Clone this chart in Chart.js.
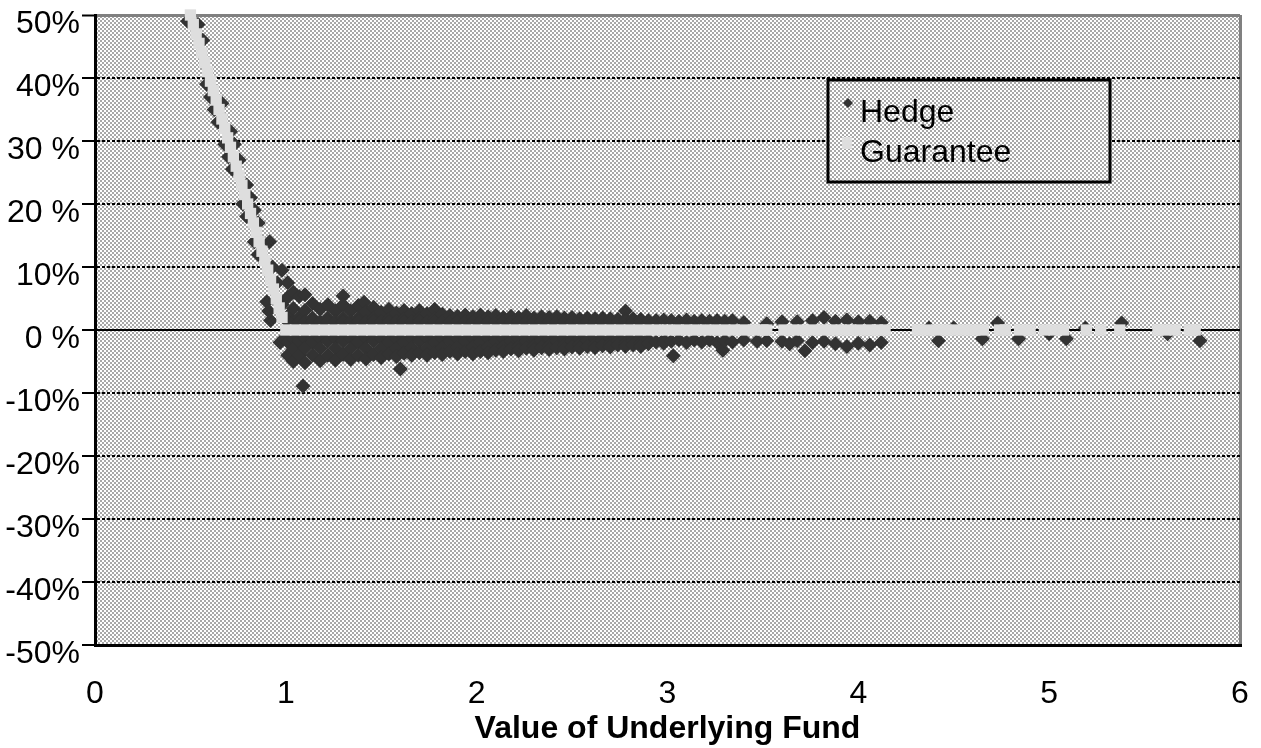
<!DOCTYPE html>
<html>
<head>
<meta charset="utf-8">
<script src="https://cdn.jsdelivr.net/npm/chart.js"></script>
<style>
  body { margin: 0; background: #fff; }
</style>
</head>
<body>
<canvas id="hedgeChart" width="1261" height="748"></canvas>

<script>
// tick labels as printed on the original chart
const xTickLabels = ['0', '1', '2', '3', '4', '5', '6'];
const yTickLabels = ['50%', '40%', '30 %', '20 %', '10%', '0 %', '-10%', '-20%', '-30%', '-40%', '-50%'];

// [value of underlying fund, hedge result in %]
const hedgePoints = [
  // below the payoff line (left side of the steep part)
  [0.485,49],[0.585,39],[0.605,37],[0.625,35],[0.645,33],[0.68,29.5],[0.70,27.5],[0.72,25.5],
  [0.775,20],[0.795,18],[0.835,14],[0.855,12],[0.90,4.5],[0.92,1.5],[0.91,3.0],
  // above the payoff line (right side of the steep part)
  [0.54,48.5],[0.565,46],[0.665,36],[0.71,31.5],[0.73,29.5],[0.755,27],[0.795,23],[0.815,21],
  [0.835,19],[0.855,17],[0.915,14],[0.93,10],[0.955,7.5],
  // around the strike
  [0.98,9.5],[0.98,4.0],[0.97,-2.0],[0.99,-1.4],
  [1.01,7.5],[1.01,5.2],[1.01,2.2],[1.01,1.3],[1.01,-1.3],[1.01,-1.9],[1.01,-4.0],
  [1.04,6.0],[1.04,3.4],[1.04,1.3],[1.04,-1.3],[1.04,-3.0],[1.04,-5.0],
  [1.07,5.3],[1.07,2.0],[1.07,1.3],[1.07,-1.3],[1.07,-1.8],[1.07,-4.0],
  [1.09,-8.9],
  [1.10,5.6],[1.10,3.1],[1.10,1.3],[1.10,-1.3],[1.10,-2.9],[1.10,-5.2],
  [1.14,4.2],[1.14,1.9],[1.14,1.3],[1.14,-1.3],[1.14,-1.9],[1.14,-4.0],
  [1.18,3.3],[1.18,1.3],[1.18,-1.3],[1.18,-2.9],[1.18,-4.9],
  [1.22,4.0],[1.22,1.9],[1.22,1.3],[1.22,-1.3],[1.22,-1.8],[1.22,-4.0],
  [1.26,3.0],[1.26,1.3],[1.26,-1.3],[1.26,-2.9],[1.26,-4.8],
  [1.30,5.4],[1.30,4.0],[1.30,1.9],[1.30,1.3],[1.30,-1.3],[1.30,-1.8],[1.30,-3.9],
  [1.34,3.0],[1.34,1.3],[1.34,-1.3],[1.34,-2.9],[1.34,-4.7],
  [1.38,3.9],[1.38,1.9],[1.38,1.3],[1.38,-1.3],[1.38,-1.9],[1.38,-4.0],
  [1.41,4.4],
  [1.42,2.9],[1.42,1.3],[1.42,-1.3],[1.42,-2.9],[1.42,-4.6],
  [1.46,3.6],[1.46,1.9],[1.46,1.3],[1.46,-1.3],[1.46,-1.8],[1.46,-3.9],
  [1.50,2.8],[1.50,1.3],[1.50,-1.3],[1.50,-2.9],[1.50,-4.4],
  [1.54,3.3],[1.54,1.8],[1.54,1.3],[1.54,-1.3],[1.54,-1.9],[1.54,-3.8],
  [1.58,2.7],[1.58,1.3],[1.58,-1.3],[1.58,-2.9],[1.58,-4.2],
  [1.60,-6.2],
  [1.62,3.1],[1.62,1.8],[1.62,1.3],[1.62,-1.3],[1.62,-1.9],[1.62,-3.7],
  [1.66,2.6],[1.66,1.3],[1.66,-1.3],[1.66,-2.8],[1.66,-4.0],
  [1.70,3.1],[1.70,1.8],[1.70,1.3],[1.70,-1.3],[1.70,-1.8],[1.70,-3.6],
  [1.74,2.6],[1.74,1.3],[1.74,-1.3],[1.74,-2.8],[1.74,-4.0],
  [1.78,3.3],[1.78,1.8],[1.78,1.3],[1.78,-1.3],[1.78,-1.9],[1.78,-3.6],
  [1.82,2.5],[1.82,1.3],[1.82,-1.3],[1.82,-2.8],[1.82,-3.9],
  [1.86,2.3],[1.86,1.3],[1.86,-1.3],[1.86,-1.8],[1.86,-3.4],
  [1.90,2.2],[1.90,1.3],[1.90,-1.3],[1.90,-2.7],[1.90,-3.8],
  [1.94,2.4],[1.94,1.3],[1.94,-1.3],[1.94,-1.8],[1.94,-3.4],
  [1.98,2.1],[1.98,1.3],[1.98,-1.3],[1.98,-2.7],[1.98,-3.8],
  [2.02,2.4],[2.02,1.3],[2.02,-1.3],[2.02,-1.9],[2.02,-3.4],
  [2.06,2.1],[2.06,1.3],[2.06,-1.3],[2.06,-2.7],[2.06,-3.6],
  [2.10,2.3],[2.10,1.3],[2.10,-1.3],[2.10,-1.8],[2.10,-3.2],
  [2.14,2.0],[2.14,1.3],[2.14,-1.3],[2.14,-2.6],[2.14,-3.4],
  [2.18,2.2],[2.18,1.3],[2.18,-1.3],[2.18,-1.8],[2.18,-3.0],
  [2.22,2.0],[2.22,1.3],[2.22,-1.3],[2.22,-2.6],[2.22,-3.3],
  [2.26,2.3],[2.26,1.3],[2.26,-1.3],[2.26,-1.8],[2.26,-2.9],
  [2.30,1.9],[2.30,1.3],[2.30,-1.3],[2.30,-2.5],[2.30,-3.2],
  [2.34,2.1],[2.34,1.3],[2.34,-1.3],[2.34,-1.7],[2.34,-2.8],
  [2.38,2.0],[2.38,1.3],[2.38,-1.3],[2.38,-2.5],[2.38,-3.1],
  [2.42,2.1],[2.42,1.3],[2.42,-1.3],[2.42,-1.7],[2.42,-2.8],
  [2.46,1.9],[2.46,1.3],[2.46,-1.3],[2.46,-2.4],[2.46,-3.0],
  [2.50,2.0],[2.50,1.3],[2.50,-1.3],[2.50,-1.7],[2.50,-2.7],
  [2.54,1.8],[2.54,1.3],[2.54,-1.3],[2.54,-2.3],[2.54,-2.9],
  [2.58,1.9],[2.58,1.3],[2.58,-1.3],[2.58,-1.7],[2.58,-2.6],
  [2.62,1.8],[2.62,1.3],[2.62,-1.3],[2.62,-2.3],[2.62,-2.8],
  [2.66,1.9],[2.66,1.3],[2.66,-1.3],[2.66,-1.7],[2.66,-2.5],
  [2.70,1.8],[2.70,1.3],[2.70,-1.3],[2.70,-2.2],[2.70,-2.7],
  [2.74,1.7],[2.74,1.3],[2.74,-1.3],[2.74,-1.7],[2.74,-2.4],
  [2.78,3.0],[2.78,1.7],[2.78,1.3],[2.78,-1.3],[2.78,-2.1],[2.78,-2.6],
  [2.82,1.8],[2.82,1.3],[2.82,-1.3],[2.82,-1.7],[2.82,-2.4],
  [2.86,1.7],[2.86,1.3],[2.86,-1.3],[2.86,-2.1],[2.86,-2.6],
  [2.90,1.5],[2.90,-1.6],[2.90,-2.2],
  [2.94,1.5],[2.94,-1.9],
  [2.98,1.6],[2.98,-1.6],[2.98,-2.1],
  [3.02,1.5],[3.02,-1.8],
  [3.03,-4.1],
  [3.06,1.4],[3.06,-1.6],
  [3.10,1.6],[3.10,-2.0],
  [3.14,1.4],[3.14,-1.6],
  [3.18,1.5],[3.18,-1.9],
  [3.22,1.4],[3.22,-1.6],
  [3.26,1.5],[3.26,-2.0],
  [3.29,-3.2],
  [3.30,1.4],[3.30,-1.7],
  [3.34,1.5],[3.34,-1.9],
  [3.40,1.2],[3.40,-1.6],
  [3.47,-1.8],
  [3.52,1.0],[3.52,-1.7],
  [3.60,1.3],[3.60,-1.8],
  [3.64,-2.2],
  [3.68,1.3],[3.68,-1.7],
  [3.72,-3.3],
  [3.76,1.5],[3.76,-2.0],
  [3.82,2.0],[3.82,-1.8],
  [3.88,1.4],[3.88,-2.2],
  [3.94,1.6],[3.94,-2.6],
  [4.00,1.3],[4.00,-2.1],
  [4.06,1.4],[4.06,-2.4],
  [4.12,1.2],[4.12,-2.0],
  [4.37,0.3],[4.42,-1.7],[4.50,0.3],[4.65,-1.4],[4.73,1.1],[4.84,-1.4],
  [5.00,-0.6],[5.09,-1.4],[5.19,0.3],[5.38,1.1],[5.62,-0.6],[5.79,-1.7]
];

// [value of underlying fund, guarantee payoff in %]
const guaranteePoints = [
  [0.50,50],[0.515,48.5],[0.53,47],[0.545,45.5],[0.56,44],[0.575,42.5],[0.59,41],[0.605,39.5],[0.62,38],
  [0.635,36.5],[0.65,35],[0.665,33.5],[0.68,32],[0.695,30.5],[0.71,29],[0.725,27.5],[0.74,26],[0.755,24.5],
  [0.77,23],[0.785,21.5],[0.80,20],[0.815,18.5],[0.83,17],[0.845,15.5],[0.86,14],[0.875,12.5],[0.89,11],
  [0.905,9.5],[0.92,8],[0.935,6.5],[0.95,5],[0.965,3.5],[0.98,2],[1.00,0],
  [1.05,0],[1.10,0],[1.15,0],[1.20,0],[1.25,0],[1.30,0],[1.35,0],[1.40,0],[1.45,0],[1.50,0],
  [1.55,0],[1.60,0],[1.65,0],[1.70,0],[1.75,0],[1.80,0],[1.85,0],[1.90,0],[1.95,0],[2.00,0],
  [2.05,0],[2.10,0],[2.15,0],[2.20,0],[2.25,0],[2.30,0],[2.35,0],[2.40,0],[2.45,0],[2.50,0],
  [2.55,0],[2.60,0],[2.65,0],[2.70,0],[2.75,0],[2.80,0],[2.85,0],[2.90,0],[2.95,0],[3.00,0],
  [3.05,0],[3.10,0],[3.15,0],[3.20,0],[3.25,0],[3.30,0],[3.35,0],[3.40,0],[3.45,0],[3.50,0],[3.52,0],
  [3.61,0],[3.66,0],[3.71,0],[3.76,0],[3.81,0],[3.86,0],[3.91,0],[3.96,0],[4.01,0],[4.06,0],[4.10,0],[4.14,0],
  [4.31,0],[4.36,0],[4.41,0],[4.46,0],[4.51,0],[4.56,0],[4.61,0],[4.655,0],
  [4.74,0],[4.77,0],[4.845,0],[4.90,0],[4.975,0],[5.025,0],[5.075,0],[5.195,0],[5.27,0],[5.37,0],
  [5.57,0],[5.61,0],[5.66,0],[5.735,0],[5.765,0]
];

const fontFamily = '"Liberation Sans", Arial, sans-serif';
const hedgeColor = '#333333';
const guaranteeColor = '#dedede';

// the grey/white checker fill of the plot area
const tile = document.createElement('canvas');
tile.width = 4;
tile.height = 4;
const tctx = tile.getContext('2d');
tctx.fillStyle = '#ffffff';
tctx.fillRect(0, 0, 4, 4);
tctx.fillStyle = '#a8a8a8';
tctx.fillRect(0, 0, 2, 2);
tctx.fillRect(2, 2, 2, 2);

const ctx = document.getElementById('hedgeChart').getContext('2d');
const checker = ctx.createPattern(tile, 'repeat');

const plotBackground = {
  id: 'plotBackground',
  beforeDraw(chart) {
    const a = chart.chartArea;
    chart.ctx.save();
    chart.ctx.fillStyle = checker;
    chart.ctx.fillRect(a.left, a.top, a.right - a.left, a.bottom - a.top);
    chart.ctx.restore();
  }
};

// boxed legend sitting inside the plot area
const boxLegend = {
  id: 'boxLegend',
  afterDatasetsDraw(chart) {
    const c = chart.ctx;
    const a = chart.chartArea;
    const bx = a.left + 733, by = a.top + 65, bw = 282, bh = 102;
    const sets = chart.data.datasets;
    c.save();
    c.fillStyle = checker;
    c.fillRect(bx, by, bw, bh);
    c.lineWidth = 3;
    c.strokeStyle = '#000';
    c.strokeRect(bx, by, bw, bh);

    // hedge marker (small diamond)
    c.fillStyle = sets[0].backgroundColor;
    c.beginPath();
    c.moveTo(bx + 20, by + 18);
    c.lineTo(bx + 25, by + 23);
    c.lineTo(bx + 20, by + 28);
    c.lineTo(bx + 15, by + 23);
    c.closePath();
    c.fill();
    // guarantee marker (small square)
    c.fillStyle = sets[1].backgroundColor;
    c.fillRect(bx + 14, by + 57, 10, 12);

    c.fillStyle = '#000';
    c.font = '32px ' + fontFamily;
    c.textBaseline = 'alphabetic';
    c.fillText(sets[0].label, bx + 32, by + 42);
    c.fillText(sets[1].label, bx + 32, by + 82);
    c.restore();
  }
};

const chart = new Chart(ctx, {
  type: 'scatter',
  data: {
    datasets: [{
      label: 'Hedge',
      data: hedgePoints.map(p => ({ x: p[0], y: p[1] })),
      pointStyle: 'rectRot',
      pointRadius: 7.5,
      backgroundColor: hedgeColor,
      borderWidth: 0,
      order: 2,
      clip: false
    }, {
      label: 'Guarantee',
      data: guaranteePoints.map(p => ({ x: p[0], y: p[1] })),
      pointStyle: 'rect',
      pointRadius: 8,
      backgroundColor: guaranteeColor,
      borderWidth: 0,
      order: 1,
      clip: false
    }]
  },
  options: {
    responsive: false,
    animation: false,
    events: [],
    layout: { padding: { top: 15, right: 21, left: 0, bottom: 0 } },
    plugins: {
      legend: { display: false },
      tooltip: { enabled: false }
    },
    scales: {
      x: {
        type: 'linear',
        min: 0,
        max: 6,
        ticks: {
          stepSize: 1,
          color: '#000',
          padding: 30,
          font: { family: fontFamily, size: 32 },
          callback: v => xTickLabels[v]
        },
        grid: {
          drawTicks: false,
          lineWidth: 3,
          color: c => (c.tick && c.tick.value === 6) ? '#808080' : 'rgba(0,0,0,0)'
        },
        border: { color: '#000', width: 3, dash: [] },
        title: {
          display: true,
          text: 'Value of Underlying Fund',
          color: '#000',
          font: { family: fontFamily, size: 32, weight: 'bold' },
          padding: { top: 0, bottom: 0 }
        },
        afterFit: s => {
          s.height = 103;
          s.paddingLeft = 0;
          s.paddingRight = 0;
        }
      },
      y: {
        min: -50,
        max: 50,
        ticks: {
          stepSize: 10,
          color: '#000',
          padding: 2,
          labelOffset: 9,
          font: { family: fontFamily, size: 32 },
          callback: v => yTickLabels[Math.round((50 - v) / 10)]
        },
        grid: {
          tickLength: 13,
          tickWidth: 2,
          tickColor: '#000',
          lineWidth: c => (c.tick && c.tick.value === 50) ? 3 : 2,
          color: c => {
            if (!c.tick) return '#000';
            if (c.tick.value === 50) return '#808080';
            if (c.tick.value === -50) return 'rgba(0,0,0,0)';
            return '#000';
          }
        },
        border: {
          color: '#000',
          width: 3,
          dash: c => (c.tick && (c.tick.value === 0 || c.tick.value === 50)) ? [] : [3, 2]
        },
        afterFit: s => {
          s.width = 95;
          s.paddingTop = 0;
          s.paddingBottom = 0;
        }
      }
    }
  },
  plugins: [plotBackground, boxLegend]
});
</script>
</body>
</html>
